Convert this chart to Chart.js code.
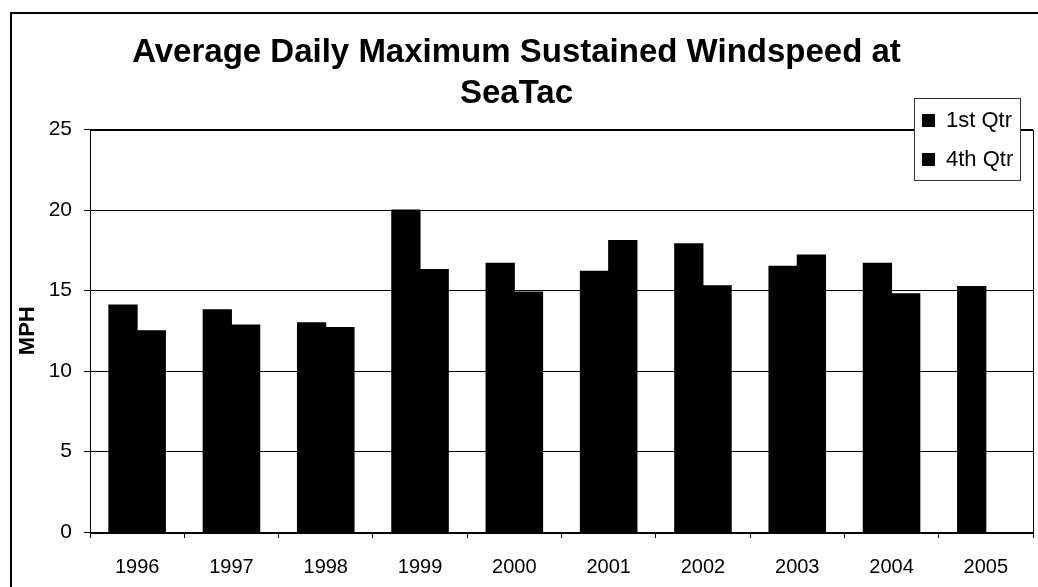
<!DOCTYPE html>
<html>
<head>
<meta charset="utf-8">
<title>Average Daily Maximum Sustained Windspeed at SeaTac</title>
<script src="https://cdn.jsdelivr.net/npm/chart.js@4.4.1/dist/chart.umd.min.js"></script>
<style>
    html, body { margin: 0; padding: 0; background: #fff; }
    #wrap { width: 1038px; height: 587px; position: relative; }
</style>
</head>
<body>
<div id="wrap"><canvas id="windChart" width="1038" height="587"></canvas></div>
<script>
// Chart data
const years = ['1996', '1997', '1998', '1999', '2000', '2001', '2002', '2003', '2004', '2005'];
const firstQtr = [14.1, 13.8, 13.0, 20.0, 16.7, 16.2, 17.9, 16.5, 16.7, 15.25];
const fourthQtr = [12.5, 12.85, 12.7, 16.3, 14.9, 18.1, 15.3, 17.2, 14.8, null];
const seriesNames = ['1st Qtr', '4th Qtr'];
const chartTitle = ['Average Daily Maximum Sustained Windspeed at', 'SeaTac'];

const FONT = '"Liberation Sans", Arial, Helvetica, sans-serif';

// Frame around the whole chart + plot area border + legend box (Excel style)
const framePlugin = {
    id: 'frame',
    afterDraw(chart) {
        const ctx = chart.ctx;
        const area = chart.chartArea;
        ctx.save();

        // outer chart border
        ctx.strokeStyle = '#000';
        ctx.lineWidth = 2;
        ctx.strokeRect(11, 13, 1040, 600);

        // plot area border
        ctx.lineWidth = 1;
        ctx.strokeRect(Math.round(area.left) + 0.5, Math.round(area.top) + 0.5,
            Math.round(area.right - area.left), Math.round(area.bottom - area.top));

        // legend
        const box = { x: 914, y: 98, w: 106, h: 82 };
        ctx.fillStyle = '#fff';
        ctx.fillRect(box.x, box.y, box.w, box.h);
        ctx.strokeStyle = '#333';
        ctx.strokeRect(box.x + 0.5, box.y + 0.5, box.w, box.h);

        ctx.font = '22px ' + FONT;
        ctx.textBaseline = 'middle';
        ctx.textAlign = 'left';
        chart.data.datasets.forEach((ds, i) => {
            const cy = 120 + i * 39;
            ctx.fillStyle = ds.backgroundColor;
            ctx.fillRect(922, cy - 6, 13, 13);
            ctx.fillStyle = '#000';
            ctx.fillText(ds.label, 946, cy + 1);
        });
        ctx.restore();
    }
};

document.addEventListener('DOMContentLoaded', function() {
    const ctx = document.getElementById('windChart').getContext('2d');

    new Chart(ctx, {
        type: 'bar',
        data: {
            labels: years,
            datasets: [{
                label: seriesNames[0],
                data: firstQtr,
                backgroundColor: '#000',
                borderWidth: 0,
                inflateAmount: 0.5
            }, {
                label: seriesNames[1],
                data: fourthQtr,
                backgroundColor: '#000',
                borderWidth: 0,
                inflateAmount: 0.5
            }]
        },
        options: {
            responsive: false,
            animation: false,
            devicePixelRatio: 1,
            layout: { padding: { left: 0, right: 5, top: 0, bottom: 0 } },
            datasets: {
                bar: { categoryPercentage: 0.6, barPercentage: 1.0 }
            },
            plugins: {
                legend: { display: false },
                tooltip: { enabled: false },
                title: {
                    display: true,
                    text: chartTitle,
                    color: '#000',
                    font: { family: FONT, size: 33, weight: 'bold', lineHeight: 1.25 },
                    padding: { top: 32, bottom: 15 }
                }
            },
            scales: {
                x: {
                    afterFit(scale) { scale.height = 55; },
                    grid: {
                        offset: true,
                        drawOnChartArea: false,
                        drawTicks: true,
                        tickLength: 6,
                        color: '#000'
                    },
                    border: { display: true, color: '#000', width: 1 },
                    ticks: {
                        color: '#000',
                        padding: 17,
                        maxRotation: 0,
                        font: { family: FONT, size: 20 }
                    }
                },
                y: {
                    min: 0,
                    max: 25,
                    afterFit(scale) { scale.width = 90; },
                    grid: {
                        color: '#000',
                        lineWidth: 1,
                        drawTicks: true,
                        tickLength: 6
                    },
                    border: { display: true, color: '#000', width: 1 },
                    ticks: {
                        stepSize: 5,
                        color: '#000',
                        padding: 12,
                        font: { family: FONT, size: 21 }
                    },
                    title: {
                        display: true,
                        text: 'MPH',
                        color: '#000',
                        font: { family: FONT, size: 22, weight: 'bold' },
                        padding: { top: 15, bottom: 0 }
                    }
                }
            }
        },
        plugins: [framePlugin]
    });
});
</script>
</body>
</html>
